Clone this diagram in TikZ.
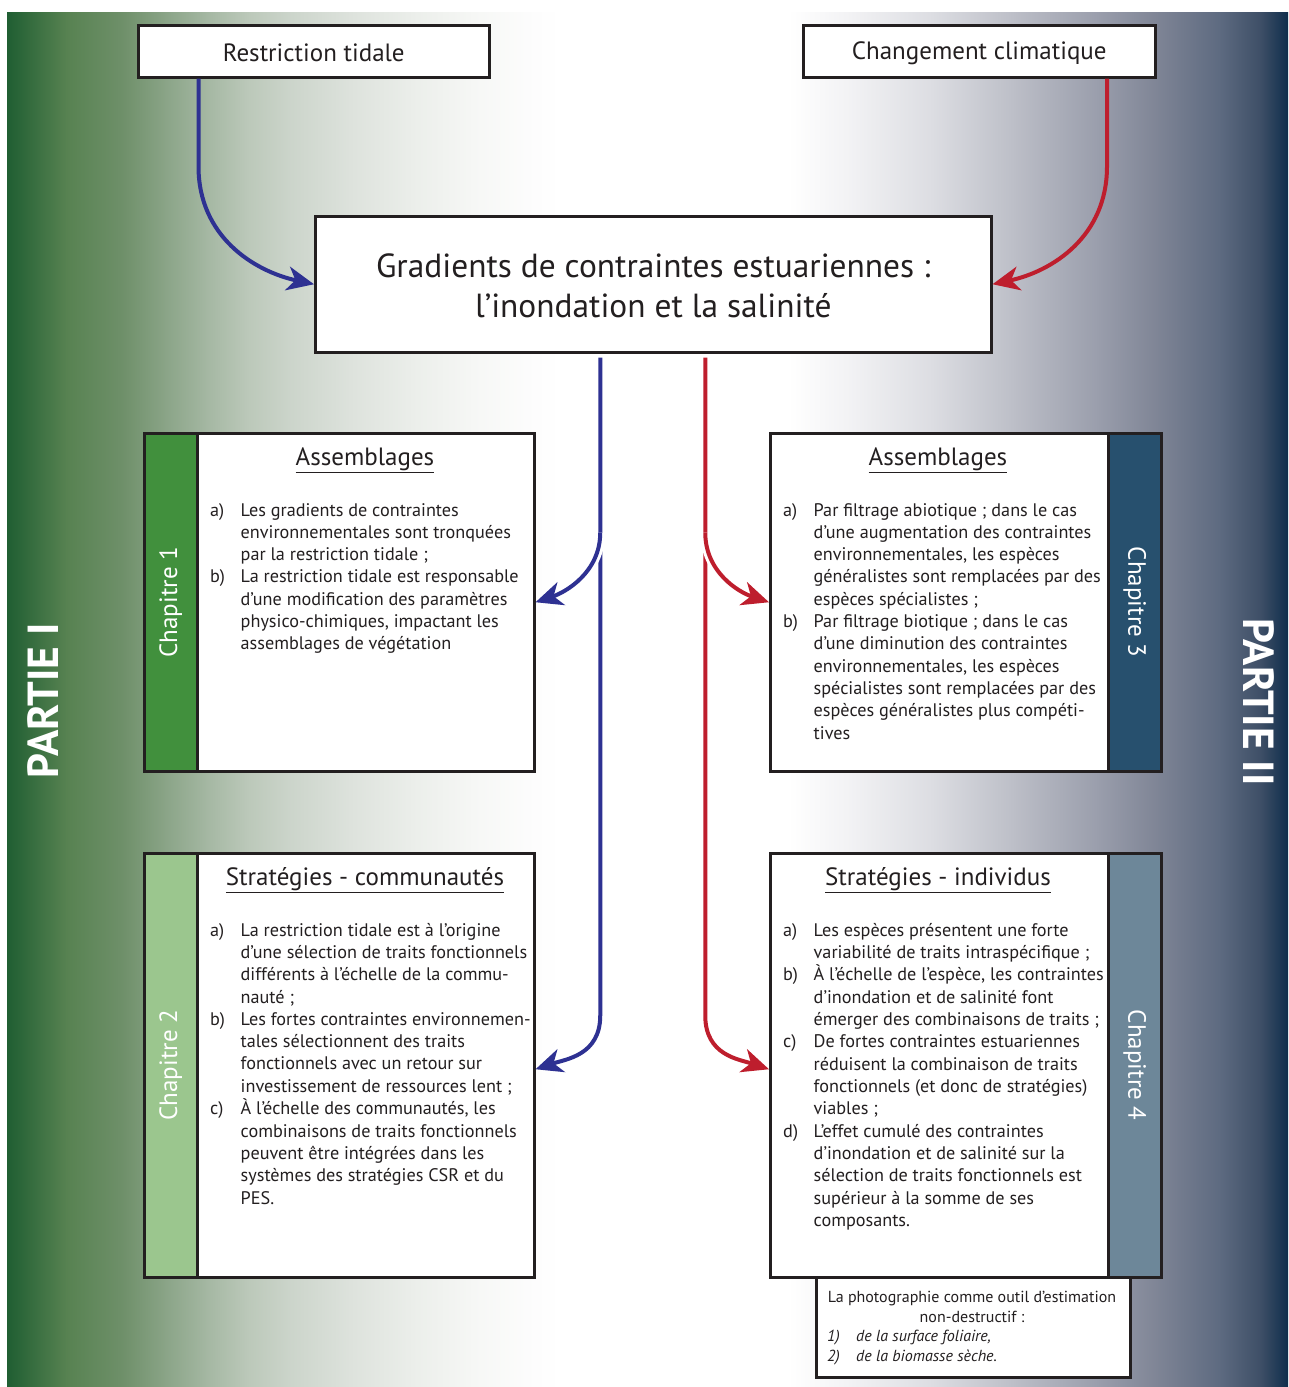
\documentclass[tikz,border=0pt]{standalone}
\usepackage{fontspec}
\setmainfont{PT Sans}
\usetikzlibrary{arrows.meta}
\definecolor{txt}{HTML}{231F20}
\definecolor{ablue}{HTML}{2E3192}
\definecolor{ared}{HTML}{BE1E2D}
\definecolor{chA}{HTML}{41903D}
\definecolor{chB}{HTML}{9BC68E}
\definecolor{chC}{HTML}{27506E}
\definecolor{chD}{HTML}{6D8799}
\definecolor{g1}{HTML}{1F5E32}
\definecolor{g2}{HTML}{578251}
\definecolor{g3}{HTML}{6F906A}
\definecolor{g4}{HTML}{8AA487}
\definecolor{g5}{HTML}{A4B7A2}
\definecolor{g6}{HTML}{BBC8B9}
\definecolor{g7}{HTML}{CBD4CA}
\definecolor{g8}{HTML}{DDE2DC}
\definecolor{g9}{HTML}{EBEEEA}
\definecolor{g10}{HTML}{F6F7F5}
\definecolor{g11}{HTML}{FDFDFD}
\definecolor{g12}{HTML}{FFFFFF}
\definecolor{b1}{HTML}{F2F2F4}
\definecolor{b2}{HTML}{DCDDE2}
\definecolor{b3}{HTML}{BCBEC7}
\definecolor{b4}{HTML}{9A9EAC}
\definecolor{b5}{HTML}{7E8495}
\definecolor{b6}{HTML}{5D6A80}
\definecolor{b7}{HTML}{3D4E66}
\definecolor{b8}{HTML}{0F2E4C}
\newcommand\gseg[4]{\fill[left color=#2,right color=#4] (#1,12) rectangle ({#3+0.7},1387);}
\newcommand\bodyfont{\fontsize{18.2}{22.33}\selectfont}
\newcommand\lab[1]{\makebox[30.5pt][l]{#1}}
\begin{document}
\begin{tikzpicture}[x=1pt,y=-1pt,
  box/.style={draw=txt, line width=2.5pt, fill=white, inner sep=0pt, anchor=north west},
  stripbox/.style={box},
  chaplab/.style={text=white, font=\fontsize{25}{28}\selectfont, inner sep=0pt},
  partlab/.style={text=white, font=\fontsize{43.5}{46}\selectfont\bfseries, inner sep=0pt},
  toptxt/.style={text=txt, font=\fontsize{25}{28}\selectfont, inner sep=0pt},
  titletxt/.style={text=txt, font=\fontsize{25}{28}\selectfont, inner sep=0pt, anchor=base},
  listtxt/.style={text=txt, font=\bodyfont, inner sep=0pt, anchor=base west},
  phtxt/.style={text=txt, font=\fontsize{16}{19.7}\selectfont, inner sep=0pt},
  arr/.style={line width=4pt, -{Stealth[length=27pt,width=24pt,inset=8pt]}},
  halo/.style={preaction={draw=white, line width=10pt, -, shorten >=14pt}}
]
\useasboundingbox (0,0) rectangle (1288,1387);
\fill[white] (0,0) rectangle (1288,1387);
% background gradient
\gseg{7}{g1}{66}{g2}
\gseg{66}{g2}{123}{g3}
\gseg{123}{g3}{165}{g4}
\gseg{165}{g4}{206}{g5}
\gseg{206}{g5}{247}{g6}
\gseg{247}{g6}{288}{g7}
\gseg{288}{g7}{350}{g8}
\gseg{350}{g8}{412}{g9}
\gseg{412}{g9}{473}{g10}
\gseg{473}{g10}{535}{g11}
\gseg{535}{g11}{560}{g12}
\gseg{560}{g12}{788}{g12}
\gseg{788}{g12}{850}{b1}
\gseg{850}{b1}{932}{b2}
\gseg{932}{b2}{1014}{b3}
\gseg{1014}{b3}{1097}{b4}
\gseg{1097}{b4}{1158}{b5}
\gseg{1158}{b5}{1220}{b6}
\gseg{1220}{b6}{1261}{b7}
\fill[left color=b7,right color=b8] (1261,12) rectangle (1288,1387);

% part labels
\node[partlab, rotate=90] (p1) at (43,701) {PARTIE I};
\node[partlab, rotate=-90] (p2) at (1259,702) {PARTIE II};

% top boxes
\node[box, minimum width=351pt, minimum height=52pt] (rt) at (137,24) {};
\node[box, minimum width=352pt, minimum height=52pt] (cc) at (802,24) {};
\node[toptxt] (rtt) at ([yshift=-2pt]rt.center) {Restriction tidale};
\node[toptxt] (cct) at ([yshift=-2pt]cc.center) {Changement climatique};

% main box
\node[box, minimum width=676pt, minimum height=136pt] (grad) at (314,215) {};
\node[text=txt, align=center, inner sep=0pt, font=\fontsize{33.4}{40}\selectfont] (gradt) at ([yshift=-2pt]grad.center) {Gradients de contraintes estuariennes :\\l’inondation et la salinité};

% chapter boxes
\node[stripbox, fill=chA, minimum width=53pt, minimum height=338pt] (ch1) at (143,432) {};
\node[box, minimum width=337pt, minimum height=338pt] (as1) at (196,432) {};
\node[stripbox, fill=chB, minimum width=53pt, minimum height=424pt] (ch2) at (143,852) {};
\node[box, minimum width=337pt, minimum height=424pt] (sc) at (196,852) {};
\node[box, minimum width=338pt, minimum height=338pt] (as3) at (769,432) {};
\node[stripbox, fill=chC, minimum width=53pt, minimum height=338pt] (ch3) at (1107,432) {};
\node[box, minimum width=338pt, minimum height=424pt] (si) at (769,852) {};
\node[stripbox, fill=chD, minimum width=53pt, minimum height=424pt] (ch4) at (1107,852) {};
\node[box, minimum width=314pt, minimum height=100pt] (ph) at (815,1276) {};

\node[chaplab, rotate=90] (c1) at (ch1.center) {Chapitre 1};
\node[chaplab, rotate=90] (c2) at (ch2.center) {Chapitre 2};
\node[chaplab, rotate=-90] (c3) at (ch3.center) {Chapitre 3};
\node[chaplab, rotate=-90] (c4) at (ch4.center) {Chapitre 4};

% titles
\node[titletxt] (t1) at (365,465) {\underline{Assemblages}};
\node[titletxt] (t2) at (365,885) {\underline{Stratégies - communautés}};
\node[titletxt] (t3) at (938,465) {\underline{Assemblages}};
\node[titletxt] (t4) at (938,885) {\underline{Stratégies - individus}};

% lists
\node[listtxt] (l1) at (210,516) {\begin{tabular}[t]{@{}l@{}l@{}}
\lab{a)} & Les gradients de contraintes\\
 & environnementales sont tronquées\\
 & par la restriction tidale ;\\
\lab{b)} & La restriction tidale est responsable\\
 & d’une modification des paramètres\\
 & physico-chimiques, impactant les\\
 & assemblages de végétation
\end{tabular}};

\node[listtxt] (l3) at (783,516) {\begin{tabular}[t]{@{}l@{}l@{}}
\lab{a)} & Par filtrage abiotique ; dans le cas\\
 & d’une augmentation des contraintes\\
 & environnementales, les espèces\\
 & généralistes sont remplacées par des\\
 & espèces spécialistes ;\\
\lab{b)} & Par filtrage biotique ; dans le cas\\
 & d’une diminution des contraintes\\
 & environnementales, les espèces\\
 & spécialistes sont remplacées par des\\
 & espèces généralistes plus compéti-\\
 & tives
\end{tabular}};

\node[listtxt] (l2) at (210,936) {\begin{tabular}[t]{@{}l@{}l@{}}
\lab{a)} & La restriction tidale est à l’origine\\
 & d’une sélection de traits fonctionnels\\
 & différents à l’échelle de la commu-\\
 & nauté ;\\
\lab{b)} & Les fortes contraintes environnemen-\\
 & tales sélectionnent des traits\\
 & fonctionnels avec un retour sur\\
 & investissement de ressources lent ;\\
\lab{c)} & À l’échelle des communautés, les\\
 & combinaisons de traits fonctionnels\\
 & peuvent être intégrées dans les\\
 & systèmes des stratégies CSR et du\\
 & PES.
\end{tabular}};

\node[listtxt] (l4) at (783,936) {\begin{tabular}[t]{@{}l@{}l@{}}
\lab{a)} & Les espèces présentent une forte\\
 & variabilité de traits intraspécifique ;\\
\lab{b)} & À l’échelle de l’espèce, les contraintes\\
 & d’inondation et de salinité font\\
 & émerger des combinaisons de traits ;\\
\lab{c)} & De fortes contraintes estuariennes\\
 & réduisent la combinaison de traits\\
 & fonctionnels (et donc de stratégies)\\
 & viables ;\\
\lab{d)} & L’effet cumulé des contraintes\\
 & d’inondation et de salinité sur la\\
 & sélection de traits fonctionnels est\\
 & supérieur à la somme de ses\\
 & composants.
\end{tabular}};

% photo box text
\node[phtxt, anchor=base] (ph1) at (972,1302) {La photographie comme outil d’estimation};
\node[phtxt, anchor=base] (ph2) at (972,1322) {non-destructif :};
\node[phtxt, font=\fontsize{16}{19.7}\selectfont\itshape, anchor=base west] (ph3) at (827,1341) {\makebox[29pt][l]{1)}de la surface foliaire,};
\node[phtxt, font=\fontsize{16}{19.7}\selectfont\itshape, anchor=base west] (ph4) at (827,1361) {\makebox[29pt][l]{2)}de la biomasse sèche.};

% connectors
\coordinate (bt) at (rt.south west -| ch1.east);
\coordinate (rtp) at (cc.south west -| ch3.west);
\draw[arr, ablue] (bt) -- ++(0,88) .. controls +(0,70) and +(-60,-13) .. (grad.west);
\draw[arr, ared] (rtp) -- ++(0,88) .. controls +(0,70) and +(60,-13) .. (grad.east);

\coordinate (bv) at ([xshift=-53pt,yshift=-4pt]grad.south);
\coordinate (rv) at ([xshift=52pt,yshift=-4pt]grad.south);
\draw[arr, ablue] (bv) -- ++(0,658) .. controls +(0,40) and +(30,-10) .. ([yshift=-4pt]sc.east);
\draw[arr, ared] (rv) -- ++(0,658) .. controls +(0,40) and +(-30,-10) .. ([yshift=-4pt]si.west);
\draw[arr, ablue, halo] ([yshift=-175pt]bv) .. controls +(0,40) and +(30,-10) .. (as1.east);
\draw[arr, ared, halo] ([yshift=-175pt]rv) .. controls +(0,40) and +(-30,-10) .. (as3.west);
\end{tikzpicture}
\end{document}
